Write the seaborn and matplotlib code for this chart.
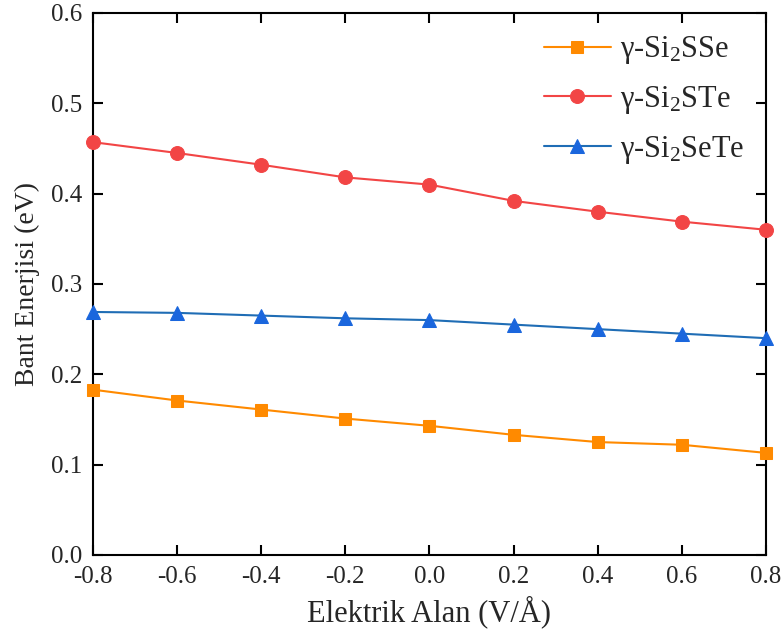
import numpy as np
import pandas as pd
import matplotlib
matplotlib.use("Agg")
import matplotlib.pyplot as plt
import seaborn as sns

field = [-0.8, -0.6, -0.4, -0.2, 0.0, 0.2, 0.4, 0.6, 0.8]
si2sse = [0.183, 0.171, 0.161, 0.151, 0.143, 0.133, 0.125, 0.122, 0.113]
si2ste = [0.457, 0.445, 0.432, 0.418, 0.410, 0.392, 0.380, 0.369, 0.360]
si2sete = [0.269, 0.268, 0.265, 0.262, 0.260, 0.255, 0.250, 0.245, 0.240]
labels = [r"γ-Si$_2$SSe", r"γ-Si$_2$STe", r"γ-Si$_2$SeTe"]
xticks = [-0.8, -0.6, -0.4, -0.2, 0.0, 0.2, 0.4, 0.6, 0.8]
yticks = [0.0, 0.1, 0.2, 0.3, 0.4, 0.5, 0.6]

sns.set_theme(style="ticks")
plt.rcParams["font.family"] = ["Liberation Serif", "DejaVu Serif"]
plt.rcParams["mathtext.fontset"] = "custom"
plt.rcParams["mathtext.rm"] = "Liberation Serif"
plt.rcParams["mathtext.it"] = "Liberation Serif:italic"

fig = plt.figure(figsize=(7.84, 6.39), dpi=100)
ax = fig.add_axes([0.1186, 0.1315, 0.8584, 0.8482])

series = [si2sse, si2ste, si2sete]
line_colors = ["#FF8A00", "#F24545", "#1F6DB5"]
face_colors = ["#FF8A00", "#F24545", "#1A66DD"]
markers = ["s", "o", "^"]
msizes = [8.5, 10, 10]
for vals, lab, lc, fc, mk, ms in zip(series, labels, line_colors, face_colors, markers, msizes):
    df = pd.DataFrame({"x": field, "y": vals})
    sns.lineplot(data=df, x="x", y="y", ax=ax, color=lc, marker=mk,
                 markersize=ms, markerfacecolor=fc,
                 markeredgecolor=fc, linewidth=1.5, label=lab,
                 clip_on=False, zorder=3)

ax.set_xlim(-0.8, 0.8)
ax.set_ylim(0.0, 0.6)
ax.set_xticks(xticks)
ax.set_yticks(yticks)
ax.set_xticklabels([f"{v:.1f}" for v in xticks])
ax.set_yticklabels([f"{v:.1f}" for v in yticks])
ax.tick_params(direction="in", length=7, width=1.5, labelsize=18, color="black",
               top=True, right=True, pad=8)
for s in ax.spines.values():
    s.set_linewidth(1.5)
    s.set_color("black")
    s.set_visible(True)
ax.set_xlabel("Elektrik Alan (V/Å)", fontsize=22, labelpad=5)
ax.set_ylabel("Bant Enerjisi (eV)", fontsize=20, labelpad=8)
leg = ax.legend(loc="upper right", frameon=False, fontsize=22, handlelength=2.2,
                handletextpad=0.3, borderaxespad=0.3, labelspacing=0.58)

fig.savefig("out.png", dpi=100)
